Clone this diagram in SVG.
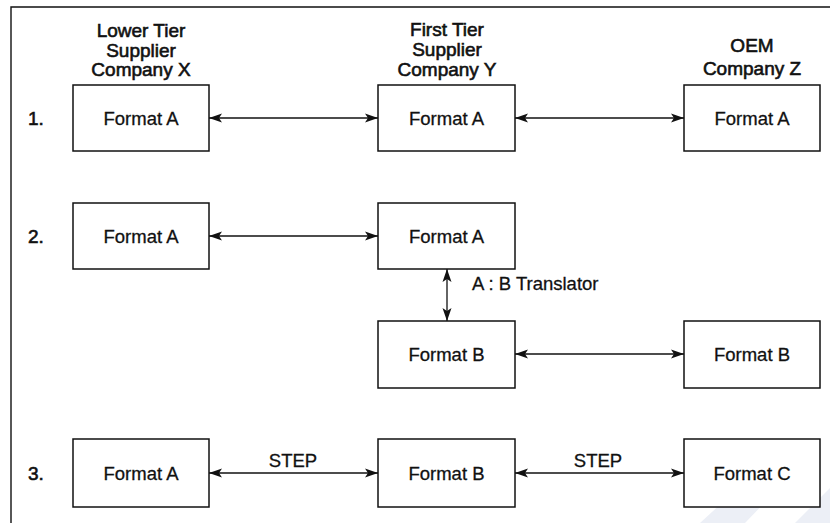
<svg xmlns="http://www.w3.org/2000/svg" width="830" height="523" viewBox="0 0 830 523">
<defs>
<style>
text{font-family:"Liberation Sans",Arial,sans-serif;font-size:18.5px;fill:#111;stroke:#111;stroke-width:0.3;}
.h{stroke-width:0.6;font-size:19px;}
.c{text-anchor:middle;}
.box{fill:#fff;stroke:#111;stroke-width:1.5;}
.ln{stroke:#111;stroke-width:1.4;fill:none;}
.con{stroke:#111;stroke-width:1.3;fill:none;marker-start:url(#ah);marker-end:url(#ah);}
</style>
<marker id="ah" viewBox="0 0 13 10" refX="13" refY="5" markerWidth="13" markerHeight="10" markerUnits="userSpaceOnUse" orient="auto-start-reverse">
<path d="M0,0.5 L13,5 L0,9.5 L3,5 Z" fill="#111"/>
</marker>
</defs>
<rect width="830" height="523" fill="#fff"/>
<g id="watermark" fill="#eceff6">
<polygon points="700,523 762,466 800,466 745,523"/>
<polygon points="795,523 830,488 830,523"/>
</g>
<g id="frame">
<path class="ln" d="M11,523 L11,7 L830,7"/>
</g>
<g id="headers">
<text class="c h" x="141" y="37">Lower Tier</text>
<text class="c h" x="141" y="57">Supplier</text>
<text class="c h" x="141" y="76">Company X</text>
<text class="c h" x="447" y="36">First Tier</text>
<text class="c h" x="447" y="56">Supplier</text>
<text class="c h" x="447" y="76">Company Y</text>
<text class="c h" x="752" y="52">OEM</text>
<text class="c h" x="752" y="75">Company Z</text>
</g>
<g id="row-labels">
<text class="h" x="28" y="125">1.</text>
<text class="h" x="28" y="243">2.</text>
<text class="h" x="28" y="480">3.</text>
</g>
<g id="connectors">
<line class="con" x1="209" y1="118" x2="378" y2="118"/>
<line class="con" x1="515" y1="118" x2="684" y2="118"/>
<line class="con" x1="209" y1="236" x2="378" y2="236"/>
<line class="con" x1="447" y1="269" x2="447" y2="321"/>
<line class="con" x1="515" y1="354" x2="684" y2="354"/>
<line class="con" x1="209" y1="473" x2="378" y2="473"/>
<line class="con" x1="515" y1="473" x2="684" y2="473"/>
<text x="472" y="290">A : B Translator</text>
<text class="c" x="293" y="467">STEP</text>
<text class="c" x="598" y="467">STEP</text>
</g>
<g id="n1x"><rect class="box" x="73" y="85" width="136" height="66"/><text class="c" x="141" y="125">Format A</text></g>
<g id="n1y"><rect class="box" x="378" y="85" width="137" height="66"/><text class="c" x="446.5" y="125">Format A</text></g>
<g id="n1z"><rect class="box" x="684" y="85" width="136" height="66"/><text class="c" x="752" y="125">Format A</text></g>
<g id="n2x"><rect class="box" x="73" y="203" width="136" height="66"/><text class="c" x="141" y="243">Format A</text></g>
<g id="n2ya"><rect class="box" x="378" y="203" width="137" height="66"/><text class="c" x="446.5" y="243">Format A</text></g>
<g id="n2yb"><rect class="box" x="378" y="321" width="137" height="67"/><text class="c" x="446.5" y="361">Format B</text></g>
<g id="n2z"><rect class="box" x="684" y="321" width="136" height="67"/><text class="c" x="752" y="361">Format B</text></g>
<g id="n3x"><rect class="box" x="73" y="439" width="136" height="68"/><text class="c" x="141" y="480">Format A</text></g>
<g id="n3y"><rect class="box" x="378" y="439" width="137" height="68"/><text class="c" x="446.5" y="480">Format B</text></g>
<g id="n3z"><rect class="box" x="684" y="439" width="136" height="68"/><text class="c" x="752" y="480">Format C</text></g>
</svg>
